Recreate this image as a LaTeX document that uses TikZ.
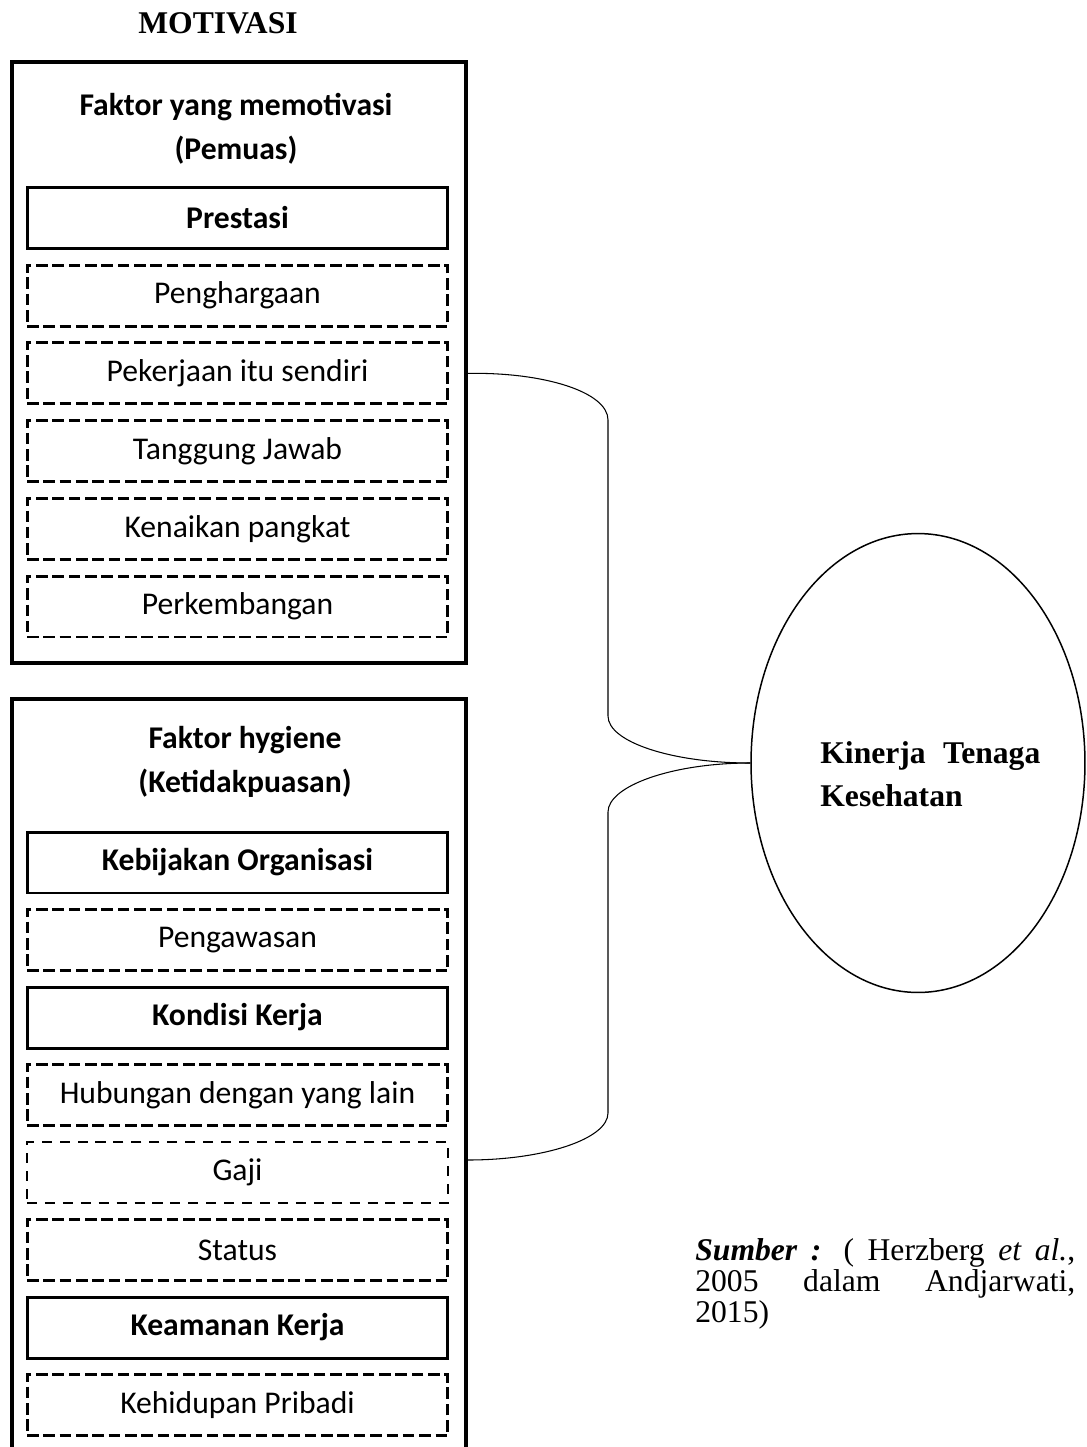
\documentclass[tikz,border=0pt]{standalone}
\usepackage{fontspec}
\setmainfont{Carlito}
\newfontfamily\timesfont{Liberation Serif}
\usetikzlibrary{shapes.geometric}
\tikzset{
  itembox/.style={draw, line width=1.7pt, minimum width=8.42cm, minimum height=1.22cm, inner sep=0pt, font=\fontsize{18}{20}\selectfont},
  solidbox/.style={itembox, font=\fontsize{18}{20}\selectfont\bfseries},
  dashbox/.style={itembox, dash pattern=on 6.6pt off 2.7pt},
  thindashbox/.style={itembox, line width=0.9pt, dash pattern=on 5.7pt off 4.5pt},
  groupbox/.style={draw, line width=2pt, inner sep=0pt, minimum width=9.08cm},
  headtext/.style={anchor=base, align=center, font=\fontsize{18}{24.5}\selectfont\bfseries},
  link/.style={line width=0.6pt}
}
\begin{document}
\begin{tikzpicture}[x=0.02cm,y=-0.02cm]
\clip (0,0) rectangle (1086,1447);
\node[anchor=base, font=\timesfont\bfseries\fontsize{18}{20}\selectfont] (title) at (218,33) {MOTIVASI};
% kelompok faktor
\node[groupbox, minimum height=12.02cm] (motiv) at (239,362.5) {};
\node[groupbox, minimum height=15.42cm] (hyg) at (239,1084.5) {};
\node[headtext] (motivhead) at (236,159) {Faktor yang memotivasi\\(Pemuas)};
\node[headtext] (hyghead) at (245,792) {Faktor hygiene\\(Ketidakpuasan)};
\foreach \sty/\txt [count=\i] in {solidbox/Prestasi, dashbox/Penghargaan, dashbox/Pekerjaan itu sendiri, dashbox/Tanggung Jawab, dashbox/Kenaikan pangkat, dashbox/Perkembangan}
  \node[\sty] (m\i) at (237.5,{218+77.7*(\i-1)}) {\txt};
\foreach \sty/\txt [count=\i] in {solidbox/Kebijakan Organisasi, dashbox/Pengawasan, solidbox/Kondisi Kerja, dashbox/Hubungan dengan yang lain, thindashbox/Gaji, dashbox/Status, solidbox/Keamanan Kerja, dashbox/Kehidupan Pribadi}
  \node[\sty] (h\i) at (237.5,{862.5+77.5*(\i-1)}) {\txt};
% kinerja
\node[draw, ellipse, line width=0.85pt, inner sep=0pt, minimum width=6.68cm, minimum height=9.18cm] (kinerja) at (918,763) {};
\node[anchor=base west, inner sep=0pt, text width=4.4cm, align=justify, font=\timesfont\bfseries\fontsize{18}{24.5}\selectfont] (kinerjatext) at (820,763) {Kinerja Tenaga\linebreak Kesehatan};
\coordinate (hygout) at (hyg.east |- 0,1160);
\draw[link] (m3 -| motiv.east) .. controls (544,372) and (608,392) .. (608,420) -- (608,716) .. controls (608,742) and (672,763) .. (kinerja.west);
\draw[link] (kinerja.west) .. controls (672,763) and (608,786) .. (608,812) -- (608,1113) .. controls (608,1139) and (544,1160) .. (hygout);
% sumber
\node[anchor=base west, inner sep=0pt, text width=7.6cm, align=justify, font=\timesfont\fontsize{18}{17.7}\selectfont] (sumber) at (695,1260) {\textbf{\textit{Sumber :}} ( Herzberg \textit{et al.},\linebreak 2005 dalam Andjarwati,\linebreak 2015)};
\end{tikzpicture}
\end{document}
